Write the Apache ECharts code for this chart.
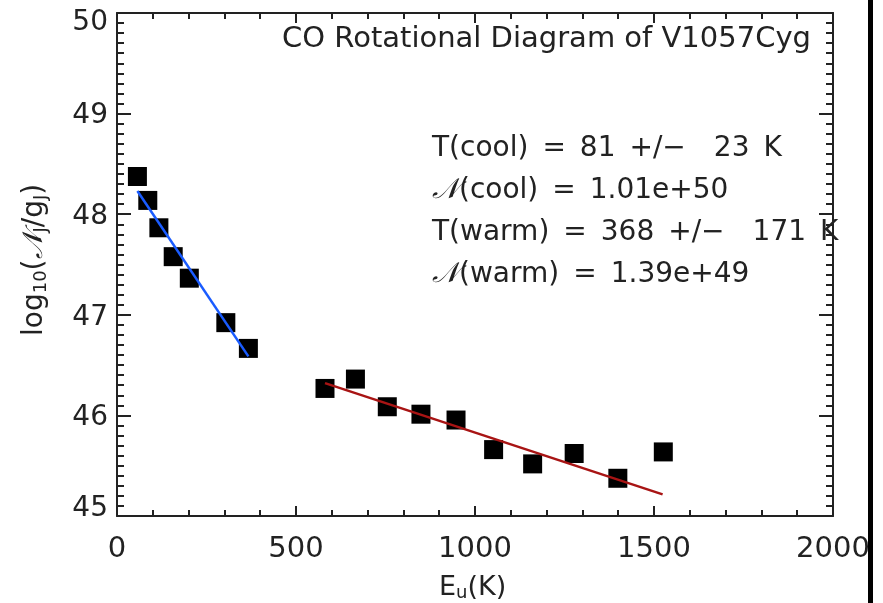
<!DOCTYPE html>
<html>
<head>
<meta charset="utf-8">
<script src="https://cdn.jsdelivr.net/npm/echarts@6/dist/echarts.min.js"></script>
<style>
html,body{margin:0;padding:0;background:#fff;}
#chart{width:883px;height:603px;}
</style>
</head>
<body>
<div id="chart"></div>
<script>
// Data
var energyK = [57, 86, 117, 157, 202, 304, 367, 581, 666, 755, 849, 947, 1052, 1161, 1277, 1399, 1526];
var logNg   = [48.375, 48.137, 47.865, 47.578, 47.364, 46.922, 46.666, 46.268, 46.361, 46.086, 46.012, 45.954, 45.660, 45.518, 45.621, 45.375, 45.637];
var coolFitX = [57, 367];
var coolFitY = [48.23, 46.587];
var warmFitX = [581, 1524];
var warmFitY = [46.321, 45.215];
var xTicks = [0, 500, 1000, 1500, 2000];
var yTicks = [45, 46, 47, 48, 49, 50];
var titleText = 'CO Rotational Diagram of V1057Cyg';
var SP = '\u2002', WS = '\u2003';
var infoLines = [
  'T(cool)' + SP + '=' + SP + '81' + SP + '+/\u2212' + WS + '23' + SP + 'K',
  '{n|\u{1D4A9}}(cool)' + SP + '=' + SP + '1.01e+50',
  'T(warm)' + SP + '=' + SP + '368' + SP + '+/\u2212' + WS + '171' + SP + 'K',
  '{n|\u{1D4A9}}(warm)' + SP + '=' + SP + '1.39e+49'
];

var FONT = 'DejaVu Sans';
var INK = '#222';
var chart = echarts.init(document.getElementById('chart'));

function pairs(xs, ys){ return xs.map(function(x,i){ return [x, ys[i]]; }); }

var lineSty = {show:true, onZero:false, lineStyle:{color:INK, width:2}};
function xAx(pos, showLabel){
  return {
    type:'value', position:pos, min:xTicks[0], max:xTicks[xTicks.length-1], interval:500,
    axisLine:lineSty,
    axisTick:{show:true, inside:true, length:10, lineStyle:{color:INK, width:2}},
    minorTick:{show:true, splitNumber:5, length:6, lineStyle:{color:INK, width:2}},
    splitLine:{show:false}, minorSplitLine:{show:false},
    axisLabel:{show:showLabel, fontFamily:FONT, fontSize:29, color:INK, margin:19,
      formatter:function(v){ return String(v); }}
  };
}
function yAx(pos, showLabel){
  return {
    type:'value', position:pos, min:yTicks[0], max:yTicks[yTicks.length-1], interval:1,
    axisLine:lineSty,
    axisTick:{show:true, inside:true, length:14, lineStyle:{color:INK, width:2}},
    minorTick:{show:true, splitNumber:10, length:7, lineStyle:{color:INK, width:2}},
    splitLine:{show:false}, minorSplitLine:{show:false},
    axisLabel:{show:showLabel, fontFamily:FONT, fontSize:28, color:INK, margin:9,
      formatter:function(v){
        if (v === yTicks[yTicks.length-1]) return '{t|' + v + '}';
        if (v === yTicks[0]) return '{b|' + v + '}';
        return '{m|' + v + '}';
      },
      rich:{
        t:{fontFamily:FONT, fontSize:28, color:INK, padding:[20,0,0,0]},
        b:{fontFamily:FONT, fontSize:28, color:INK, padding:[0,0,14,0]},
        m:{fontFamily:FONT, fontSize:28, color:INK, padding:[5,0,0,0]}
      }}
  };
}

var option = {
  backgroundColor:'#fff',
  animation:false,
  grid:{left:117, top:13, right:50, bottom:87},
  xAxis:[xAx('bottom', true), xAx('top', false)],
  yAxis:[yAx('left', true), yAx('right', false)],
  series:[
    {type:'scatter', data:pairs(energyK, logNg), symbol:'rect', symbolSize:19,
     itemStyle:{color:'#000', opacity:1}, z:3},
    {type:'line', data:pairs(coolFitX, coolFitY), symbol:'none',
     lineStyle:{color:'#1a5cff', width:2.5}, z:4},
    {type:'line', data:pairs(warmFitX, warmFitY), symbol:'none',
     lineStyle:{color:'#a81414', width:2.5}, z:4}
  ],
  graphic:[
    {type:'rect', shape:{x:868, y:0, width:5, height:603}, style:{fill:'#000'}},
    {type:'text', left:282, top:25, style:{text:titleText, font:'29px "DejaVu Sans"', fill:INK}},
    {type:'text', left:432, top:128, style:{
      text:infoLines.join('\n'), font:'28px "DejaVu Sans"', fill:INK, lineHeight:42,
      rich:{n:{fontFamily:FONT, fontSize:28, fontStyle:'italic', fill:INK, lineHeight:42}}
    }},
    {type:'text', left:439, top:574, style:{
      text:'E{s|u}(K)', font:'27px "DejaVu Sans"', fill:INK,
      rich:{s:{fontFamily:FONT, fontSize:18, fill:INK, padding:[12,0,0,0]}}
    }},
    {type:'text', x:20, y:336, rotation:Math.PI/2, style:{
      text:'log{s|10}({n|\u{1D4A9}}{s|J}/g{s|J})', font:'28px "DejaVu Sans"', fill:INK,
      rich:{s:{fontFamily:FONT, fontSize:18, fill:INK, padding:[12,0,0,0]},
            n:{fontFamily:FONT, fontSize:28, fontStyle:'italic', fill:INK}}
    }}
  ]
};
chart.setOption(option);
</script>
</body>
</html>
